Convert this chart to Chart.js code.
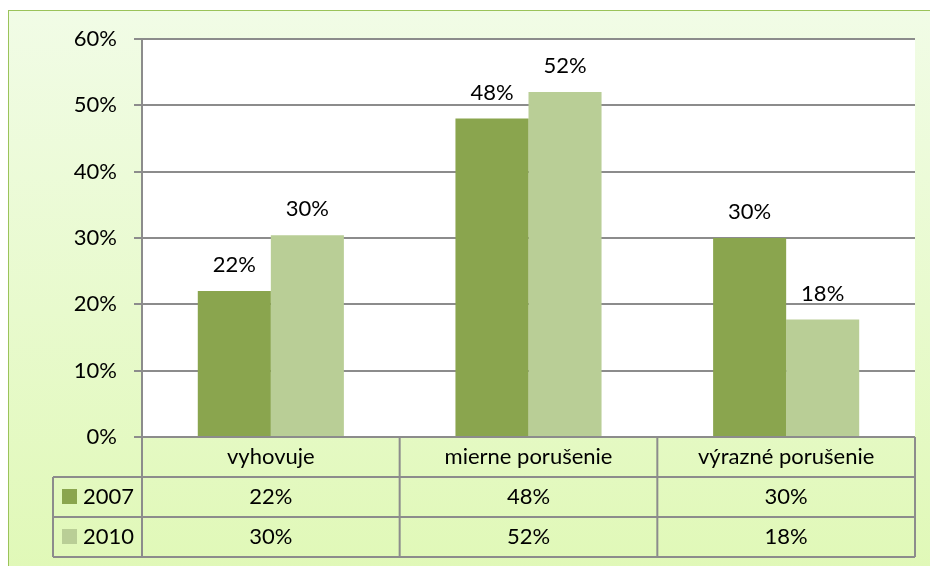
<!DOCTYPE html>
<html>
<head>
<meta charset="utf-8">
<script src="https://cdn.jsdelivr.net/npm/chart.js@4"></script>
<style>
  html, body { margin: 0; padding: 0; background: #fff; overflow: hidden; }
  #frame {
    position: absolute; left: 8px; top: 10px; width: 940px; height: 600px;
    border: 1.5px solid #9bc35a;
    background: linear-gradient(#f1fce6, #dff8b4);
  }
  #chart { position: absolute; left: 0; top: 0; }
</style>
</head>
<body>
<div id="frame"></div>
<canvas id="chart" width="930" height="566"></canvas>
<script>
const categories = ['vyhovuje', 'mierne porušenie', 'výrazné porušenie'];
const years = ['2007', '2010'];
const values2007 = [22, 48, 30];
const values2010 = [30.4, 52, 17.7];
const colors = ['#8aa54e', '#b9ce96'];

const fmt = (v) => Math.round(v) + '%';
const FONT = '22px Lato';

Chart.defaults.font.family = 'Lato';
Chart.defaults.font.size = 22;
Chart.defaults.color = '#000';

// white plot area behind the bars
const plotBg = {
  id: 'plotBg',
  beforeDraw(chart) {
    const { ctx, chartArea: a } = chart;
    ctx.save();
    ctx.fillStyle = '#fff';
    ctx.fillRect(a.left, a.top, a.right - a.left, a.bottom - a.top);
    ctx.restore();
  },
};

// value labels above bars
const barLabels = {
  id: 'barLabels',
  afterDatasetsDraw(chart) {
    const ctx = chart.ctx;
    ctx.save();
    ctx.font = FONT;
    ctx.fillStyle = '#000';
    ctx.textAlign = 'center';
    ctx.textBaseline = 'alphabetic';
    chart.data.datasets.forEach((ds, i) => {
      chart.getDatasetMeta(i).data.forEach((bar, j) => {
        ctx.fillText(fmt(ds.data[j]), bar.x, bar.y - 19);
      });
    });
    ctx.restore();
  },
};

// data table under the axis
const dataTable = {
  id: 'dataTable',
  afterDraw(chart) {
    const ctx = chart.ctx;
    const xs = chart.scales.x;
    const a = chart.chartArea;
    const colW = (xs.right - xs.left) / categories.length;
    const rowH = 40;
    const legendLeft = 53;
    const top = a.bottom;
    const bottom = top + rowH * 3;

    ctx.save();
    ctx.strokeStyle = '#8c8c8c';
    ctx.lineWidth = 2;
    ctx.beginPath();
    // horizontal lines
    ctx.moveTo(a.left, top); ctx.lineTo(a.right, top);
    for (let r = 1; r <= 3; r++) {
      ctx.moveTo(legendLeft, top + rowH * r);
      ctx.lineTo(a.right, top + rowH * r);
    }
    // vertical lines
    ctx.moveTo(legendLeft, top + rowH); ctx.lineTo(legendLeft, bottom);
    for (let c = 0; c <= categories.length; c++) {
      const x = xs.left + colW * c;
      ctx.moveTo(x, top); ctx.lineTo(x, bottom);
    }
    ctx.stroke();

    ctx.font = FONT;
    ctx.fillStyle = '#000';
    ctx.textBaseline = 'middle';
    ctx.textAlign = 'center';
    categories.forEach((c, j) => {
      ctx.fillText(c, xs.getPixelForValue(j), top + rowH / 2);
    });
    chart.data.datasets.forEach((ds, i) => {
      const cy = top + rowH * (i + 1.5);
      ctx.textAlign = 'center';
      ds.data.forEach((v, j) => ctx.fillText(fmt(v), xs.getPixelForValue(j), cy));
      ctx.fillStyle = ds.backgroundColor;
      ctx.fillRect(legendLeft + 9, cy - 8, 15, 15);
      ctx.fillStyle = '#000';
      ctx.textAlign = 'left';
      ctx.fillText(ds.label, legendLeft + 30, cy);
    });
    ctx.restore();
  },
};

new Chart(document.getElementById('chart'), {
  type: 'bar',
  data: {
    labels: categories,
    datasets: [
      { label: years[0], data: values2007, backgroundColor: colors[0] },
      { label: years[1], data: values2010, backgroundColor: colors[1] },
    ],
  },
  options: {
    responsive: false,
    animation: false,
    layout: { padding: { top: 39, right: 15, bottom: 129, left: 0 } },
    plugins: { legend: { display: false }, tooltip: { enabled: false } },
    datasets: { bar: { categoryPercentage: 0.567, barPercentage: 1 } },
    scales: {
      x: { display: false },
      y: {
        min: 0,
        max: 60,
        afterFit(scale) { scale.width = 142; },
        ticks: { stepSize: 10, padding: 17, callback: (v) => v + '%' },
        grid: { color: '#8c8c8c', lineWidth: 2, tickLength: 8, tickColor: '#8c8c8c' },
        border: { display: true, color: '#8c8c8c', width: 2 },
      },
    },
  },
  plugins: [plotBg, barLabels, dataTable],
});
</script>
</body>
</html>
